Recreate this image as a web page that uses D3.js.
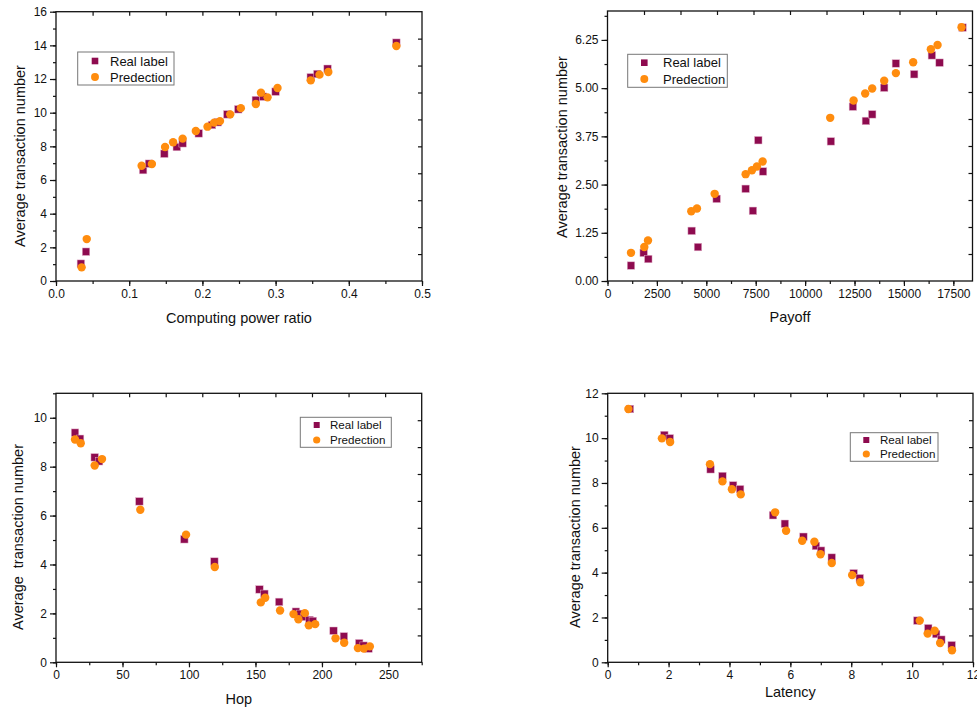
<!DOCTYPE html>
<html>
<head>
<meta charset="utf-8">
<script src="https://cdn.jsdelivr.net/npm/d3@7"></script>
<style>
html,body{margin:0;padding:0;background:#fff;}
svg{display:block;}
text{font-family:"Liberation Sans",Arial,sans-serif;fill:#111;}
</style>
</head>
<body>
<svg id="chart" width="977" height="707"></svg>
<script>
// ---------- Data ----------
// Panel 1: Computing power ratio
const p1RealX = [0.034,0.041,0.119,0.127,0.148,0.165,0.173,0.195,0.213,0.221,0.234,0.249,0.273,0.283,0.300,0.348,0.357,0.371,0.465];
const p1RealY = [1.03,1.74,6.59,6.97,7.56,7.96,8.18,8.77,9.27,9.43,9.90,10.20,10.75,10.95,11.25,12.10,12.30,12.61,14.16];
const p1PredX = [0.035,0.042,0.117,0.131,0.149,0.160,0.173,0.191,0.207,0.216,0.224,0.238,0.2525,0.273,0.280,0.289,0.3026,0.348,0.360,0.372,0.465];
const p1PredY = [0.81,2.49,6.85,6.95,7.96,8.24,8.46,8.91,9.17,9.41,9.50,9.90,10.27,10.52,11.19,10.91,11.47,11.92,12.26,12.42,13.96];
const p1XTicks = [0,0.1,0.2,0.3,0.4,0.5];
const p1XLabels = ["0.0","0.1","0.2","0.3","0.4","0.5"];
const p1YTicks = [0,2,4,6,8,10,12,14,16];

// Panel 2: Payoff
const p2RealX = [1189,1831,2064,4259,4578,5523,6990,7360,7630,7870,11305,12418,13075,13394,14001,14593,15518,16414,16803,17966];
const p2RealY = [0.40,0.73,0.57,1.30,0.88,2.13,2.39,1.82,3.65,2.84,3.62,4.52,4.15,4.32,5.01,5.64,5.36,5.85,5.66,6.57];
const p2PredX = [1189,1862,2049,4239,4527,5422,6990,7309,7562,7850,11270,12453,13040,13394,14001,14593,15468,16363,16702,17916];
const p2PredY = [0.73,0.88,1.05,1.81,1.88,2.26,2.77,2.87,2.97,3.10,4.23,4.68,4.86,4.99,5.19,5.39,5.67,6.01,6.12,6.58];
const p2XTicks = [0,2500,5000,7500,10000,12500,15000,17500];
const p2YTicks = [0,1.25,2.5,3.75,5,6.25];
const p2YLabels = ["0.00","1.25","2.50","3.75","5.00","6.25"];

// Panel 3: Hop
const p3RealX = [14.3,18.1,29.1,32.4,62.7,96.5,119.1,153,156.7,167.8,180.4,183.6,186.9,190.6,193.1,208.7,216.5,228,231.3,235];
const p3RealY = [9.39,9.14,8.38,8.22,6.58,5.03,4.12,2.98,2.80,2.47,2.07,1.98,1.86,1.73,1.69,1.29,1.06,0.78,0.68,0.56];
const p3PredX = [14.3,18.6,29.1,34.6,63.4,97.8,119.4,154,157.3,168.5,178.6,182.3,187.1,190.1,194.9,210.2,216.7,227,231.5,236];
const p3PredY = [9.11,8.96,8.05,8.31,6.24,5.22,3.90,2.45,2.64,2.12,1.97,1.76,2.01,1.51,1.56,0.98,0.80,0.58,0.56,0.65];
const p3XTicks = [0,50,100,150,200,250];
const p3YTicks = [0,2,4,6,8,10];

// Panel 4: Latency
const p4RealX = [0.73,1.86,2.04,3.38,3.77,4.12,4.35,5.43,5.82,6.43,6.84,7.01,7.36,8.08,8.28,10.17,10.53,10.79,10.96,11.30];
const p4RealY = [11.30,10.14,9.99,8.61,8.31,7.89,7.72,6.56,6.18,5.60,5.19,4.98,4.67,3.97,3.75,1.86,1.52,1.26,1.01,0.76];
const p4PredX = [0.68,1.78,2.05,3.36,3.77,4.08,4.37,5.50,5.86,6.39,6.79,6.99,7.36,8.03,8.30,10.25,10.51,10.74,10.92,11.31];
const p4PredY = [11.30,9.99,9.83,8.84,8.07,7.72,7.49,6.69,5.87,5.42,5.38,4.82,4.43,3.89,3.57,1.86,1.28,1.41,0.86,0.54];
const p4XTicks = [0,2,4,6,8,10,12];
const p4YTicks = [0,2,4,6,8,10,12];

const legendLabels = ["Real label","Predection"];
const REAL_COLOR = "#8E0B4F";
const PRED_COLOR = "#FF8C0E";

// ---------- Drawing ----------
const svg = d3.select("#chart");

function drawPanel(o) {
  const x = d3.scaleLinear().domain(o.xDomain).range([o.left, o.right]);
  const y = d3.scaleLinear().domain(o.yDomain).range([o.bottom, o.top]);
  const g = svg.append("g");

  // bottom axis (outward ticks)
  const xMinor = d3.range(o.xDomain[0], o.xDomain[1] + 1e-9, o.xMinorStep);
  g.append("g").attr("transform", `translate(0,${o.bottom})`)
    .call(d3.axisBottom(x).tickValues(xMinor).tickSize(3).tickFormat(""))
    .call(a => a.select(".domain").remove());
  g.append("g").attr("transform", `translate(0,${o.bottom})`)
    .call(d3.axisBottom(x).tickValues(o.xTicks).tickSize(5).tickPadding(3)
      .tickFormat((d, i) => o.xLabels ? o.xLabels[i] : d3.format("d")(d)))
    .call(a => a.select(".domain").remove())
    .call(a => a.selectAll("text").attr("font-size", o.tickFont).attr("fill", "#111"));

  // left axis (outward ticks)
  const yMinor = d3.range(o.yDomain[0], o.yDomain[1] + 1e-9, o.yMinorStep);
  g.append("g").attr("transform", `translate(${o.left},0)`)
    .call(d3.axisLeft(y).tickValues(yMinor).tickSize(3).tickFormat(""))
    .call(a => a.select(".domain").remove());
  g.append("g").attr("transform", `translate(${o.left},0)`)
    .call(d3.axisLeft(y).tickValues(o.yTicks).tickSize(6).tickPadding(3)
      .tickFormat((d, i) => o.yLabels ? o.yLabels[i] : d3.format("d")(d)))
    .call(a => a.select(".domain").remove())
    .call(a => a.selectAll("text").attr("font-size", o.tickFont).attr("fill", "#111"));

  // top axis: 10 equal divisions, inward ticks
  const xs = x.domain(), ys = y.domain();
  const topTicks = d3.range(1, 10).map(k => xs[0] + (xs[1] - xs[0]) * k / 10);
  g.append("g").attr("transform", `translate(0,${o.top})`)
    .call(d3.axisBottom(x).tickValues(topTicks).tickSize(4).tickFormat(""))
    .call(a => a.select(".domain").remove());
  // right axis: 10 equal divisions, inward ticks
  const rightTicks = d3.range(1, 10).map(k => ys[0] + (ys[1] - ys[0]) * k / 10);
  g.append("g").attr("transform", `translate(${o.right},0)`)
    .call(d3.axisLeft(y).tickValues(rightTicks).tickSize(4).tickFormat(""))
    .call(a => a.select(".domain").remove());

  g.selectAll(".tick line").attr("stroke", "#111").attr("stroke-width", 1.2);

  // frame
  g.append("rect").attr("x", o.left).attr("y", o.top)
    .attr("width", o.right - o.left).attr("height", o.bottom - o.top)
    .attr("fill", "none").attr("stroke", "#111").attr("stroke-width", 1.3);

  // data: squares then circles
  const S = 7.5;
  g.append("g").selectAll("rect").data(o.realX.map((v, i) => [v, o.realY[i]]))
    .join("rect")
    .attr("x", d => x(d[0]) - S / 2).attr("y", d => y(d[1]) - S / 2)
    .attr("width", S).attr("height", S)
    .attr("fill", REAL_COLOR).attr("stroke", "#e3b3cc").attr("stroke-width", 0.5);
  g.append("g").selectAll("circle").data(o.predX.map((v, i) => [v, o.predY[i]]))
    .join("circle")
    .attr("cx", d => x(d[0])).attr("cy", d => y(d[1])).attr("r", 4.2)
    .attr("fill", PRED_COLOR);

  // axis titles
  g.append("text").attr("x", (o.left + o.right) / 2).attr("y", o.xTitleY)
    .attr("text-anchor", "middle").attr("font-size", 14.5).text(o.xTitle);
  g.append("text")
    .attr("transform", `translate(${o.yTitleX},${o.yTitleCY}) rotate(-90)`)
    .attr("text-anchor", "middle").attr("font-size", 14.5)
    .style("white-space", "pre").text(o.yTitle);

  // legend
  const L = o.legend;
  const lg = g.append("g");
  lg.append("rect").attr("x", L.x).attr("y", L.y).attr("width", L.w).attr("height", L.h)
    .attr("fill", "#fff").attr("stroke", "#777").attr("stroke-width", 1);
  lg.append("rect").attr("x", L.mx - L.ms / 2).attr("y", L.y1 - L.ms / 2).attr("width", L.ms).attr("height", L.ms)
    .attr("fill", REAL_COLOR);
  lg.append("circle").attr("cx", L.mx).attr("cy", L.y2).attr("r", L.ms * 0.6).attr("fill", PRED_COLOR);
  lg.append("text").attr("x", L.tx).attr("y", L.y1 + L.fs * 0.35).attr("font-size", L.fs).text(legendLabels[0]);
  lg.append("text").attr("x", L.tx).attr("y", L.y2 + L.fs * 0.35).attr("font-size", L.fs).text(legendLabels[1]);
}

drawPanel({
  left: 56, right: 422, top: 11.7, bottom: 281,
  xDomain: [0, 0.5], yDomain: [0, 16],
  xTicks: p1XTicks, xLabels: p1XLabels, xMinorStep: 0.05,
  yTicks: p1YTicks, yMinorStep: 1, tickFont: 12,
  realX: p1RealX, realY: p1RealY, predX: p1PredX, predY: p1PredY,
  xTitle: "Computing power ratio", xTitleY: 323,
  yTitle: "Average transaction number", yTitleX: 25, yTitleCY: 156,
  legend: {x: 77.7, y: 52, w: 96.3, h: 33, mx: 95, y1: 61, y2: 77, tx: 110, fs: 13, ms: 6.6}
});

drawPanel({
  left: 607.5, right: 972.5, top: 11, bottom: 281,
  xDomain: [0, 18470], yDomain: [0, 7],
  xTicks: p2XTicks, xMinorStep: 1250,
  yTicks: p2YTicks, yLabels: p2YLabels, yMinorStep: 0.625, tickFont: 12,
  realX: p2RealX, realY: p2RealY, predX: p2PredX, predY: p2PredY,
  xTitle: "Payoff", xTitleY: 322,
  yTitle: "Average transaction number", yTitleX: 567, yTitleCY: 147,
  legend: {x: 627.7, y: 54.3, w: 99.6, h: 33, mx: 644.3, y1: 62.7, y2: 79, tx: 663, fs: 13, ms: 6.6}
});

drawPanel({
  left: 56, right: 421.7, top: 393.3, bottom: 662.3,
  xDomain: [0, 275], yDomain: [0, 11],
  xTicks: p3XTicks, xMinorStep: 25,
  yTicks: p3YTicks, yMinorStep: 1, tickFont: 12,
  realX: p3RealX, realY: p3RealY, predX: p3PredX, predY: p3PredY,
  xTitle: "Hop", xTitleY: 704,
  yTitle: "Average  transaction number", yTitleX: 23, yTitleCY: 537,
  legend: {x: 300.3, y: 417.3, w: 91, h: 30, mx: 316.7, y1: 425, y2: 440, tx: 330, fs: 11.6, ms: 6}
});

drawPanel({
  left: 607.7, right: 973, top: 393.3, bottom: 662.3,
  xDomain: [0, 12], yDomain: [0, 12],
  xTicks: p4XTicks, xMinorStep: 1,
  yTicks: p4YTicks, yMinorStep: 1, tickFont: 12,
  realX: p4RealX, realY: p4RealY, predX: p4PredX, predY: p4PredY,
  xTitle: "Latency", xTitleY: 697,
  yTitle: "Average transaction number", yTitleX: 580, yTitleCY: 537,
  legend: {x: 850.3, y: 432.7, w: 87.7, h: 28.6, mx: 866.3, y1: 440, y2: 454, tx: 880, fs: 11.6, ms: 6}
});
</script>
</body>
</html>
